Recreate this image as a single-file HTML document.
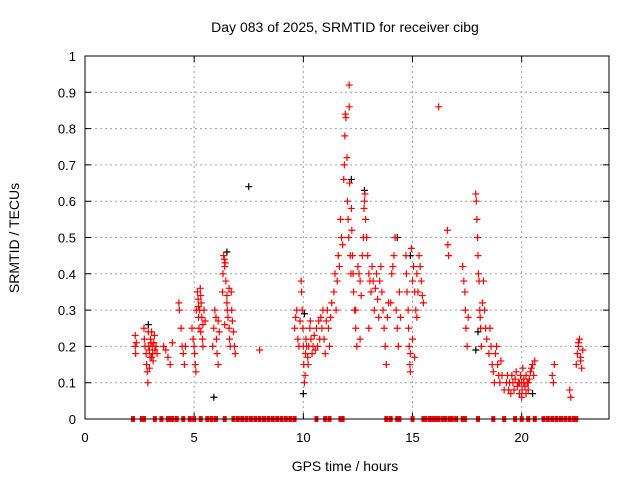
<!DOCTYPE html>
<html><head><meta charset="utf-8"><style>
html,body{margin:0;padding:0;background:#fff;}
svg{display:block;font-family:"Liberation Sans",sans-serif;}
</style></head><body>
<svg id="chart" width="640" height="480">
<rect width="640" height="480" fill="#fff"/>
<text x="345" y="32" font-size="14" text-anchor="middle">Day 083 of 2025, SRMTID for receiver cibg</text>
<text x="345" y="471" font-size="14" text-anchor="middle">GPS time / hours</text>
<text x="19" y="238" font-size="14" text-anchor="middle" transform="rotate(-90 19 238)">SRMTID / TECUs</text>
<g id="grid"></g><g id="axes"></g><g id="marks"></g>
<rect x="85" y="56" width="524" height="363" fill="none" stroke="#000" stroke-width="1"/>
</svg>
<script>
const xTicks=[0,5,10,15,20];
const yTicks=[0,0.1,0.2,0.3,0.4,0.5,0.6,0.7,0.8,0.9,1];
const yTickLabels=["0","0.1","0.2","0.3","0.4","0.5","0.6","0.7","0.8","0.9","1"];
// red points as [hour, value] pairs, grouped by time span
const red02=[[2.3,0.23],[2.3,0.2],[2.32,0.18],[2.35,0.21],[2.7,0.25],[2.72,0.22],[2.75,0.2],[2.8,0.18],[2.82,0.15],[2.85,0.13],[2.88,0.1],[2.9,0.24],[2.92,0.2],[2.95,0.19],[2.98,0.17],[3.0,0.22],[3.02,0.21],[3.05,0.24],[3.08,0.2],[3.1,0.18],[3.12,0.16],[3.15,0.21],[3.18,0.23],[3.2,0.19],[3.25,0.2],[3.3,0.18],[2.95,0.14],[3.05,0.17]];
const red04=[[3.6,0.2],[3.7,0.19],[3.8,0.17],[3.9,0.15],[4.0,0.21],[4.3,0.32],[4.32,0.3],[4.4,0.25],[4.45,0.2],[4.5,0.18],[4.55,0.15],[4.6,0.2],[4.9,0.25],[4.95,0.22],[5.0,0.2],[5.02,0.18],[5.05,0.15],[5.08,0.13],[5.1,0.3],[5.15,0.35],[5.18,0.33],[5.2,0.28],[5.22,0.25],[5.25,0.3],[5.28,0.36],[5.3,0.34],[5.32,0.32],[5.35,0.28],[5.38,0.22],[5.4,0.26],[5.45,0.3],[5.5,0.27],[5.2,0.31],[5.3,0.24],[5.4,0.2]];
const red06=[[5.85,0.2],[5.9,0.25],[5.95,0.3],[6.0,0.28],[6.02,0.22],[6.05,0.18],[6.1,0.15],[6.15,0.24],[6.1,0.27],[6.3,0.35],[6.32,0.4],[6.35,0.45],[6.38,0.44],[6.4,0.42],[6.42,0.43],[6.45,0.38],[6.5,0.34],[6.52,0.3],[6.55,0.28],[6.6,0.25],[6.62,0.22],[6.65,0.2],[6.7,0.35],[6.72,0.3],[6.75,0.27],[6.8,0.24],[6.85,0.2],[6.88,0.18],[6.5,0.32],[6.6,0.36],[6.4,0.26],[8.0,0.19]];
const red10=[[9.6,0.25],[9.65,0.28],[9.7,0.3],[9.75,0.22],[9.8,0.2],[9.85,0.27],[9.9,0.38],[9.92,0.35],[9.95,0.3],[9.98,0.25],[10.0,0.2],[10.02,0.15],[10.05,0.1],[10.08,0.12],[10.1,0.18],[10.12,0.22],[10.15,0.2],[10.2,0.17],[10.22,0.15],[10.25,0.2],[10.3,0.25],[10.32,0.27],[10.35,0.22],[10.4,0.18],[10.45,0.2],[10.5,0.23],[10.55,0.19],[10.6,0.25],[10.65,0.2],[10.7,0.27],[10.75,0.22],[10.8,0.28],[10.85,0.25],[10.9,0.3],[10.95,0.22],[11.0,0.18],[11.05,0.27],[11.1,0.3],[11.15,0.25],[11.2,0.2],[11.25,0.28],[11.3,0.32]];
const red12=[[11.4,0.35],[11.45,0.4],[11.5,0.3],[11.55,0.38],[11.6,0.45],[11.65,0.42],[11.7,0.55],[11.75,0.5],[11.8,0.48],[11.85,0.66],[11.88,0.7],[11.9,0.78],[11.92,0.84],[11.95,0.83],[12.0,0.72],[12.02,0.6],[12.05,0.55],[12.08,0.5],[12.1,0.86],[12.12,0.65],[12.15,0.45],[12.18,0.4],[12.2,0.58],[12.22,0.52],[12.25,0.45],[12.28,0.4],[12.3,0.35],[12.35,0.3],[12.4,0.25],[12.45,0.2],[12.5,0.42],[12.55,0.4],[12.6,0.38],[12.65,0.34],[12.7,0.45],[12.75,0.5],[12.78,0.58],[12.8,0.6],[12.82,0.62],[12.85,0.55],[12.9,0.5],[12.95,0.45],[13.0,0.4],[13.05,0.38],[13.1,0.35],[13.15,0.42],[13.2,0.38],[13.25,0.3],[13.3,0.36],[13.35,0.4],[13.4,0.33],[13.45,0.28],[13.5,0.38],[13.55,0.42],[13.6,0.35],[13.65,0.3],[13.7,0.25],[13.75,0.2],[13.8,0.15],[13.85,0.28],[13.9,0.32],[12.1,0.92],[12.4,0.3],[12.6,0.22],[13.0,0.25]];
const red14=[[14.0,0.32],[14.05,0.4],[14.1,0.42],[14.15,0.45],[14.2,0.5],[14.25,0.3],[14.3,0.25],[14.35,0.2],[14.4,0.35],[14.45,0.28],[14.7,0.45],[14.72,0.4],[14.75,0.35],[14.8,0.3],[14.82,0.25],[14.85,0.2],[14.88,0.15],[14.9,0.13],[14.95,0.47],[15.0,0.38],[15.05,0.42],[15.1,0.35],[15.15,0.3],[15.2,0.4],[15.25,0.35],[15.3,0.45],[15.35,0.42],[15.4,0.38],[15.45,0.34],[15.5,0.32],[15.0,0.22],[15.2,0.28],[14.9,0.18],[15.1,0.17]];
const red17=[[16.2,0.86],[16.6,0.52],[16.62,0.48],[16.65,0.45],[17.3,0.42],[17.35,0.38],[17.4,0.35],[17.42,0.3],[17.45,0.25],[17.5,0.2],[17.55,0.28],[17.9,0.62],[17.92,0.6],[17.95,0.55],[17.98,0.5],[18.0,0.45],[18.02,0.4],[18.05,0.38],[18.08,0.3],[18.1,0.28],[18.12,0.25],[18.15,0.2],[18.2,0.32],[18.25,0.38],[18.3,0.3],[18.35,0.25],[18.4,0.22],[18.5,0.18],[18.55,0.25],[18.6,0.2],[18.65,0.15],[18.7,0.13],[18.75,0.1],[18.8,0.18],[18.85,0.2],[18.9,0.15],[18.95,0.12],[19.0,0.1],[19.05,0.16]];
const red20=[[19.1,0.12],[19.2,0.08],[19.3,0.1],[19.35,0.12],[19.4,0.08],[19.45,0.1],[19.5,0.07],[19.55,0.12],[19.6,0.1],[19.65,0.08],[19.7,0.11],[19.75,0.13],[19.8,0.09],[19.85,0.1],[19.9,0.07],[19.95,0.12],[20.0,0.1],[20.02,0.08],[20.05,0.14],[20.1,0.11],[20.15,0.09],[20.2,0.12],[20.25,0.1],[20.3,0.08],[20.35,0.11],[20.4,0.13],[20.45,0.14],[20.5,0.15],[20.55,0.12],[20.6,0.16],[20.0,0.06],[20.2,0.07],[19.9,0.1],[20.1,0.1],[20.3,0.1],[21.4,0.12],[21.45,0.1],[21.5,0.15],[22.2,0.08],[22.25,0.06],[22.5,0.15],[22.55,0.18],[22.6,0.2],[22.65,0.22],[22.7,0.17],[22.75,0.14],[22.8,0.19],[22.6,0.21],[22.7,0.16]];
const blackPts=[[2.9,0.26],[5.9,0.06],[6.5,0.46],[7.5,0.64],[10.0,0.07],[10.05,0.29],[12.2,0.66],[12.8,0.63],[14.3,0.5],[14.9,0.45],[17.9,0.19],[18.0,0.24],[20.5,0.07]];
const zeroT=[2.2,2.6,2.7,3.2,3.5,3.8,3.9,4.0,4.2,4.5,4.8,5.0,5.3,5.6,5.8,6.0,6.4,6.8,7.0,7.2,7.4,7.6,7.8,8.0,8.2,8.4,8.6,8.8,9.0,9.2,9.4,9.6,10.6,11.0,11.2,11.7,11.8,13.8,14.0,14.3,14.4,15.0,15.5,15.6,15.8,15.9,16.0,16.1,16.2,16.4,16.5,16.7,16.8,17.0,17.3,17.4,18.0,18.7,19.2,19.7,20.0,20.3,20.6,21.0,21.2,21.4,21.6,21.8,22.0,22.2,22.4,22.5];
const NS="http://www.w3.org/2000/svg";
const x0=85,x1=609,y0=419,y1=56;
function xs(t){return x0+(t/24)*(x1-x0);}
function ys(v){return y0-v*(y0-y1);}
function mk(tag,attrs,parent){const e=document.createElementNS(NS,tag);for(const k in attrs)e.setAttribute(k,attrs[k]);parent.appendChild(e);return e;}
const grid=document.getElementById('grid'),axes=document.getElementById('axes'),marks=document.getElementById('marks');
xTicks.forEach(t=>{const X=xs(t);
 if(t>0){const g=mk('line',{x1:X,x2:X,y1:y1,y2:y0,stroke:'#a0a0a0','stroke-dasharray':'2,3'},grid);
 
 }
 const tk=mk('path',{d:`M${X},${y0}v-6M${X},${y1}v6`,stroke:'#000'},axes);
 
 
 const l=mk('text',{x:X,y:y0+23,'font-size':13,'text-anchor':'middle'},axes);l.textContent=t;
 
 });
yTicks.forEach((v,i)=>{const Y=ys(v);
 if(v>0&&v<1){const g=mk('line',{x1:x0,x2:x1,y1:Y,y2:Y,stroke:'#a0a0a0','stroke-dasharray':'2,3'},grid);
 
 }
 const tk=mk('path',{d:`M${x0},${Y}h6M${x1},${Y}h-6`,stroke:'#000'},axes);
 
 
 const l=mk('text',{x:x0-9,y:Y+5,'font-size':13,'text-anchor':'end'},axes);l.textContent=yTickLabels[i];
 
 });
function plus(t,v,c,name){const X=xs(t),Y=ys(v);
 const p=mk('path',{d:`M${X-3.5},${Y}h7M${X},${Y-3.5}v7`,stroke:c,'stroke-width':1.2},marks);
 
 }
blackPts.forEach(p=>plus(p[0],p[1],'#000','black-point'));
[red02,red04,red06,red10,red12,red14,red17,red20].forEach(arr=>arr.forEach(p=>plus(p[0],p[1],'#f00','red-point')));
zeroT.forEach(t=>{const X=xs(t);
 const r=mk('rect',{x:X-2,y:y0-3,width:4,height:6,fill:'#f00'},marks);
 
 });
</script>
</body></html>
